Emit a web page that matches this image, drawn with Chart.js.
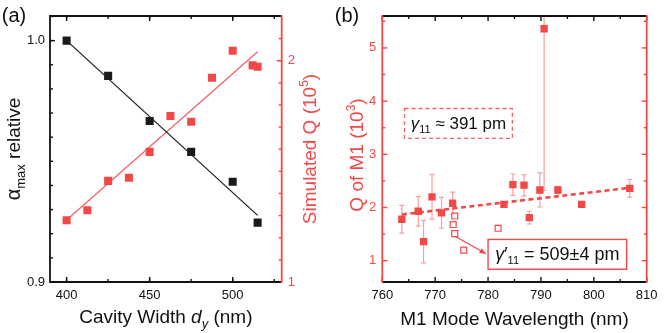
<!DOCTYPE html>
<html lang="en">
<head>
<meta charset="UTF-8">
<title>Cavity width and M1 mode Q</title>
<script src="https://cdn.jsdelivr.net/npm/chart.js@4.4.0/dist/chart.umd.min.js"></script>
<style>
  html, body { margin: 0; padding: 0; background: #fff; }
  #wrap { position: relative; width: 665px; height: 333px; }
  #chartA { position: absolute; left: 0; top: 0; }
  #chartB { position: absolute; left: 333px; top: 0; }
</style>
</head>
<body>
<div id="wrap">
  <canvas id="chartA" width="333" height="333"></canvas>
  <canvas id="chartB" width="332" height="333"></canvas>
</div>
<script>
// ---- panel (a) data ----
const widthAlpha = [400, 425, 450, 475, 500, 515];
const alphaRel   = [1.0, 0.9854, 0.9667, 0.9539, 0.9415, 0.9246];
const widthQ     = [400, 412.5, 425, 437.5, 450, 462.5, 475, 487.5, 500, 512, 515];
const simQ       = [1.279, 1.324, 1.457, 1.471, 1.588, 1.75, 1.724, 1.923, 2.045, 1.979, 1.973];
const alphaFitX  = [400, 515];
const alphaFitY  = [1.0, 0.9276];
const qFitX      = [400, 515];
const qFitY      = [1.28, 2.04];
const ticksAX    = [400, 450, 500];
const ticksAY    = [0.9, 1.0];
const ticksAQ    = [1, 2];

// ---- panel (b) data ----
const wl    = [763.7, 766.8, 767.8, 769.4, 771.2, 773.3, 783.0, 784.7, 786.8, 787.8, 789.8, 790.6, 793.2, 797.7, 806.8];
const qM1   = [1.78, 1.93, 1.36, 2.2, 1.9, 2.08, 2.06, 2.43, 2.42, 1.81, 2.33, 5.36, 2.33, 2.06, 2.36];
const qErr  = [0.26, 0.28, 0.4, 0.42, 0.29, 0.21, 0.03, 0.2, 0.2, 0.12, 0.32, 3.04, 0.07, 0.04, 0.17];
const wlOpen = [773.7, 773.4, 773.7, 775.4, 781.9];
const qOpen  = [1.84, 1.68, 1.51, 1.2, 1.61];
const fitWl  = [763.7, 806.8];
const fitQ   = [1.87, 2.37];
const ticksBX = [760, 770, 780, 790, 800, 810];
const ticksBY = [1, 2, 3, 4, 5];

const RED = '#f24848';
const FONT = "'Liberation Sans', Arial, sans-serif";

function pts(xs, ys) { return xs.map((x, i) => ({ x: x, y: ys[i] })); }
function range(a, b, s) { const r = []; for (let v = a; v <= b + 1e-9; v += s) r.push(+v.toFixed(4)); return r; }

// draws a row of text runs centred on (x, y), optionally rotated
function rich(ctx, runs, x, y, angle, color) {
  ctx.save();
  ctx.translate(x, y);
  ctx.rotate(angle || 0);
  ctx.fillStyle = color;
  ctx.textAlign = 'left';
  ctx.textBaseline = 'alphabetic';
  let w = 0;
  runs.forEach(r => { ctx.font = (r.it ? 'italic ' : '') + r.s + 'px ' + FONT; w += ctx.measureText(r.t).width; });
  let cx = -w / 2;
  runs.forEach(r => {
    ctx.font = (r.it ? 'italic ' : '') + r.s + 'px ' + FONT;
    ctx.fillText(r.t, cx, r.dy || 0);
    cx += ctx.measureText(r.t).width;
  });
  ctx.restore();
}

function axisLine(ctx, x1, y1, x2, y2, color) {
  ctx.strokeStyle = color; ctx.lineWidth = 1.8;
  ctx.beginPath(); ctx.moveTo(x1, y1); ctx.lineTo(x2, y2); ctx.stroke();
}

// inward ticks along one side of the plot
function ticks(ctx, chart, scaleId, side, major, minor, color) {
  const a = chart.chartArea, sc = chart.scales[scaleId];
  ctx.strokeStyle = color; ctx.lineWidth = 1.4;
  const put = (v, len) => {
    const p = sc.getPixelForValue(v);
    ctx.beginPath();
    if (side === 'bottom') { ctx.moveTo(p, a.bottom); ctx.lineTo(p, a.bottom - len); }
    if (side === 'top')    { ctx.moveTo(p, a.top);    ctx.lineTo(p, a.top + len); }
    if (side === 'left')   { ctx.moveTo(a.left, p);   ctx.lineTo(a.left + len, p); }
    if (side === 'right')  { ctx.moveTo(a.right, p);  ctx.lineTo(a.right - len, p); }
    ctx.stroke();
  };
  minor.forEach(v => put(v, 3));
  major.forEach(v => put(v, 5));
}

const setTicks = list => scale => { scale.ticks = list.map(v => ({ value: v })); };

// ================= panel (a) =================
const framePluginA = {
  id: 'frameA',
  afterDraw(chart) {
    const ctx = chart.ctx, a = chart.chartArea;
    ctx.save();
    ticks(ctx, chart, 'x', 'bottom', ticksAX, range(400, 525, 25), '#111');
    ticks(ctx, chart, 'x', 'top', ticksAX, range(400, 525, 25), '#111');
    ticks(ctx, chart, 'y', 'left', ticksAY, range(0.9, 1.01, 0.01), '#111');
    ticks(ctx, chart, 'yQ', 'right', ticksAQ, range(1, 2.2, 0.1), RED);
    axisLine(ctx, a.left, a.top, a.right, a.top, '#111');
    axisLine(ctx, a.left, a.bottom, a.right, a.bottom, '#111');
    axisLine(ctx, a.left, a.top - 0.9, a.left, a.bottom + 0.9, '#111');
    axisLine(ctx, a.right, a.top - 0.9, a.right, a.bottom + 0.9, RED);

    rich(ctx, [{ t: '(a)', s: 20 }], 14, 22, 0, '#111');
    rich(ctx, [{ t: 'Cavity Width ', s: 19 }, { t: 'd', s: 19, it: true }, { t: 'y', s: 13, it: true, dy: 5 }, { t: ' (nm)', s: 19 }],
      (a.left + a.right) / 2, 323, 0, '#111');
    rich(ctx, [{ t: 'α', s: 20 }, { t: 'max', s: 13, dy: 5 }, { t: ' relative', s: 19 }],
      20, (a.top + a.bottom) / 2, -Math.PI / 2, '#111');
    rich(ctx, [{ t: 'Simulated Q (10', s: 19 }, { t: '5', s: 12, dy: -8 }, { t: ')', s: 19 }],
      316, (a.top + a.bottom) / 2, -Math.PI / 2, RED);
    ctx.restore();
  }
};

new Chart(document.getElementById('chartA'), {
  type: 'scatter',
  data: {
    datasets: [
      { type: 'line', data: pts(alphaFitX, alphaFitY), yAxisID: 'y', borderColor: '#222', borderWidth: 1.3, pointRadius: 0 },
      { type: 'line', data: pts(qFitX, qFitY), yAxisID: 'yQ', borderColor: 'rgba(242,72,72,0.85)', borderWidth: 1.3, pointRadius: 0 },
      { data: pts(widthAlpha, alphaRel), yAxisID: 'y', pointStyle: 'rect', pointRadius: 5.7, backgroundColor: '#1a1a1a', borderColor: '#1a1a1a', borderWidth: 0 },
      { data: pts(widthQ, simQ), yAxisID: 'yQ', pointStyle: 'rect', pointRadius: 5.7, backgroundColor: RED, borderColor: RED, borderWidth: 0 }
    ]
  },
  options: {
    responsive: false,
    animation: false,
    layout: { padding: { top: 16, left: 0, right: 0, bottom: 0 } },
    plugins: { legend: { display: false }, tooltip: { enabled: false } },
    scales: {
      x: {
        type: 'linear', position: 'bottom', min: 390, max: 529.5,
        afterBuildTicks: setTicks(ticksAX),
        afterFit: s => { s.height = 51; },
        grid: { display: false, drawTicks: false }, border: { display: false },
        ticks: { color: '#111', padding: 6, font: { family: FONT, size: 13 } }
      },
      y: {
        type: 'linear', position: 'left', min: 0.9, max: 1.0102,
        afterBuildTicks: setTicks(ticksAY),
        afterFit: s => { s.width = 50; },
        grid: { display: false, drawTicks: false }, border: { display: false },
        ticks: { color: '#111', padding: 5, font: { family: FONT, size: 13 }, callback: v => v.toFixed(1) }
      },
      yQ: {
        type: 'linear', position: 'right', min: 1, max: 2.202,
        afterBuildTicks: setTicks(ticksAQ),
        afterFit: s => { s.width = 51.3; },
        grid: { display: false, drawTicks: false }, border: { display: false },
        ticks: { color: RED, padding: 6, font: { family: FONT, size: 13 } }
      }
    }
  },
  plugins: [framePluginA]
});

// ================= panel (b) =================
const errorBarsB = {
  id: 'errB',
  beforeDatasetsDraw(chart) {
    const ctx = chart.ctx, a = chart.chartArea, xs = chart.scales.x, ys = chart.scales.y;
    ctx.save();
    ctx.beginPath(); ctx.rect(a.left, a.top, a.right - a.left, a.bottom - a.top); ctx.clip();
    ctx.strokeStyle = 'rgba(242,80,80,0.55)'; ctx.lineWidth = 1.2;
    wl.forEach((w, i) => {
      const px = xs.getPixelForValue(w);
      const top = ys.getPixelForValue(qM1[i] + qErr[i]);
      const bot = ys.getPixelForValue(qM1[i] - qErr[i]);
      ctx.beginPath();
      ctx.moveTo(px, top); ctx.lineTo(px, bot);
      ctx.moveTo(px - 2.5, top); ctx.lineTo(px + 2.5, top);
      ctx.moveTo(px - 2.5, bot); ctx.lineTo(px + 2.5, bot);
      ctx.stroke();
    });
    ctx.restore();
  }
};

const framePluginB = {
  id: 'frameB',
  afterDraw(chart) {
    const ctx = chart.ctx, a = chart.chartArea, xs = chart.scales.x, ys = chart.scales.y;
    ctx.save();
    ticks(ctx, chart, 'x', 'bottom', ticksBX, range(765, 805, 10), '#111');
    ticks(ctx, chart, 'x', 'top', ticksBX, range(765, 805, 10), '#111');
    ticks(ctx, chart, 'y', 'left', ticksBY, range(1.5, 5.5, 1), RED);
    ticks(ctx, chart, 'y', 'right', ticksBY, range(1.5, 5.5, 1), RED);
    axisLine(ctx, a.left, a.top, a.right, a.top, '#111');
    axisLine(ctx, a.left, a.bottom, a.right, a.bottom, '#111');
    axisLine(ctx, a.left, a.top - 0.9, a.left, a.bottom + 0.9, RED);
    axisLine(ctx, a.right, a.top - 0.9, a.right, a.bottom + 0.9, RED);

    // dashed annotation box
    let x1 = xs.getPixelForValue(764.2), x2 = xs.getPixelForValue(784.6);
    let y1 = ys.getPixelForValue(3.86), y2 = ys.getPixelForValue(3.3);
    ctx.setLineDash([4, 3]);
    ctx.strokeStyle = 'rgba(242,72,72,0.85)'; ctx.lineWidth = 1.4;
    ctx.strokeRect(x1, y1, x2 - x1, y2 - y1);
    ctx.setLineDash([]);
    rich(ctx, [{ t: 'γ', s: 17, it: true }, { t: '11', s: 11, dy: 4 }, { t: ' ≈ 391 pm', s: 17 }],
      (x1 + x2) / 2, (y1 + y2) / 2 + 6, 0, '#111');

    // solid annotation box with arrow
    x1 = xs.getPixelForValue(780.0); x2 = xs.getPixelForValue(806.2);
    y1 = ys.getPixelForValue(1.40); y2 = ys.getPixelForValue(0.84);
    ctx.fillStyle = '#fff';
    ctx.fillRect(x1, y1, x2 - x1, y2 - y1);
    ctx.strokeStyle = RED; ctx.lineWidth = 1.4;
    ctx.strokeRect(x1, y1, x2 - x1, y2 - y1);
    rich(ctx, [{ t: 'γ', s: 18, it: true }, { t: '′', s: 18 }, { t: '11', s: 11, dy: 4 }, { t: ' = 509', s: 18 }, { t: '±', s: 18 }, { t: '4 pm', s: 18 }],
      (x1 + x2) / 2, (y1 + y2) / 2 + 6, 0, '#111');

    const sx = xs.getPixelForValue(773.9), sy = ys.getPixelForValue(1.45);
    const ex = xs.getPixelForValue(779.6), ey = ys.getPixelForValue(1.13);
    ctx.strokeStyle = RED; ctx.fillStyle = RED; ctx.lineWidth = 1.3;
    ctx.beginPath(); ctx.moveTo(sx, sy); ctx.lineTo(ex, ey); ctx.stroke();
    const ang = Math.atan2(ey - sy, ex - sx);
    ctx.beginPath();
    ctx.moveTo(ex, ey);
    ctx.lineTo(ex - 7 * Math.cos(ang - 0.4), ey - 7 * Math.sin(ang - 0.4));
    ctx.lineTo(ex - 7 * Math.cos(ang + 0.4), ey - 7 * Math.sin(ang + 0.4));
    ctx.closePath(); ctx.fill();

    rich(ctx, [{ t: '(b)', s: 20 }], 14, 22, 0, '#111');
    rich(ctx, [{ t: 'M1 Mode Wavelength (nm)', s: 19 }], (a.left + a.right) / 2, 325, 0, '#111');
    rich(ctx, [{ t: 'Q of M1 (10', s: 19 }, { t: '3', s: 12, dy: -8 }, { t: ')', s: 19 }],
      30, 155, -Math.PI / 2, RED);
    ctx.restore();
  }
};

new Chart(document.getElementById('chartB'), {
  type: 'scatter',
  data: {
    datasets: [
      { type: 'line', data: pts(fitWl, fitQ), borderColor: RED, borderWidth: 2.6, borderDash: [5, 3.5], pointRadius: 0 },
      { data: pts(wlOpen, qOpen), pointStyle: 'rect', pointRadius: 4.2, backgroundColor: '#fff', borderColor: RED, borderWidth: 1.2 },
      { data: pts(wl, qM1), pointStyle: 'rect', pointRadius: 5.2, backgroundColor: RED, borderColor: RED, borderWidth: 0 }
    ]
  },
  options: {
    responsive: false,
    animation: false,
    layout: { padding: { top: 16, left: 0, right: 18.3, bottom: 0 } },
    plugins: { legend: { display: false }, tooltip: { enabled: false } },
    scales: {
      x: {
        type: 'linear', position: 'bottom', min: 760, max: 810,
        afterBuildTicks: setTicks(ticksBX),
        afterFit: s => { s.height = 51; },
        grid: { display: false, drawTicks: false }, border: { display: false },
        ticks: { color: '#111', padding: 6, font: { family: FONT, size: 13 } }
      },
      y: {
        type: 'linear', position: 'left', min: 0.6, max: 5.6,
        afterBuildTicks: setTicks(ticksBY),
        afterFit: s => { s.width = 49.3; },
        grid: { display: false, drawTicks: false }, border: { display: false },
        ticks: { color: RED, padding: 6, font: { family: FONT, size: 13 } }
      }
    }
  },
  plugins: [errorBarsB, framePluginB]
});
</script>
</body>
</html>
